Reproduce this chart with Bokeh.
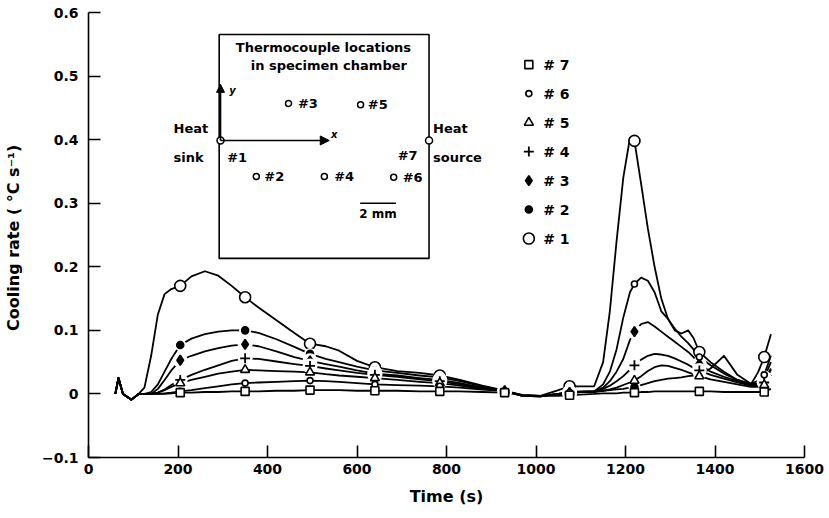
from bokeh.plotting import figure
from bokeh.models import FixedTicker, CustomJSTickFormatter, Arrow, NormalHead
from bokeh.core.properties import value
from bokeh.embed import file_html
from bokeh.resources import INLINE

# Time axis of the cooling-rate records (s)
time_s = [60, 67, 77, 96, 112, 125, 140, 155, 170, 185,
          205, 230, 260, 290, 320, 350, 380, 420, 460, 495,
          530, 560, 600, 640, 690, 740, 785, 830, 880, 930,
          970, 1010, 1050, 1075, 1100, 1130, 1150, 1165, 1180, 1195,
          1210, 1220, 1235, 1250, 1265, 1280, 1295, 1310, 1325, 1340,
          1352, 1365, 1390, 1420, 1450, 1480, 1495, 1510, 1525]

# Cooling rate (degC/s) for each thermocouple
rate_tc1 = [0.0, 0.025, 0.0, -0.009, 0.0, 0.01, 0.06, 0.125, 0.157, 0.165,
            0.170, 0.185, 0.193, 0.186, 0.170, 0.152, 0.136, 0.116, 0.096, 0.079,
            0.075, 0.068, 0.052, 0.042, 0.036, 0.033, 0.029, 0.022, 0.013, 0.005,
            -0.002, -0.003, 0.006, 0.012, 0.012, 0.012, 0.05, 0.13, 0.24, 0.34,
            0.403, 0.398, 0.33, 0.26, 0.20, 0.15, 0.118, 0.10, 0.095, 0.10,
            0.088, 0.066, 0.05, 0.035, 0.022, 0.015, 0.032, 0.058, 0.094]
rate_tc2 = [0.0, 0.025, 0.0, -0.009, 0.0, 0.0, 0.003, 0.015, 0.035, 0.055,
            0.077, 0.087, 0.094, 0.098, 0.100, 0.100, 0.096, 0.086, 0.074, 0.063,
            0.055, 0.050, 0.043, 0.037, 0.033, 0.029, 0.026, 0.020, 0.012, 0.005,
            -0.003, -0.004, 0.0, 0.003, 0.004, 0.004, 0.005, 0.006, 0.007, 0.008,
            0.010, 0.011, 0.014, 0.017, 0.020, 0.022, 0.024, 0.025, 0.026, 0.028,
            0.029, 0.030, 0.040, 0.060, 0.030, 0.016, 0.016, 0.020, 0.040]
rate_tc3 = [0.0, 0.025, 0.0, -0.009, 0.0, 0.0, 0.0, 0.008, 0.022, 0.037,
            0.053, 0.060, 0.067, 0.072, 0.076, 0.078, 0.075, 0.067, 0.058, 0.052,
            0.047, 0.043, 0.037, 0.032, 0.029, 0.025, 0.022, 0.017, 0.010, 0.005,
            -0.003, -0.004, 0.0, 0.002, 0.003, 0.004, 0.010, 0.020, 0.035, 0.055,
            0.085, 0.098, 0.110, 0.113, 0.106, 0.098, 0.090, 0.082, 0.074, 0.066,
            0.058, 0.047, 0.035, 0.027, 0.020, 0.014, 0.016, 0.025, 0.050]
rate_tc4 = [0.0, 0.025, 0.0, -0.009, 0.0, 0.0, 0.0, 0.002, 0.007, 0.014,
            0.022, 0.030, 0.038, 0.045, 0.052, 0.056, 0.055, 0.051, 0.047, 0.044,
            0.040, 0.037, 0.033, 0.030, 0.027, 0.023, 0.020, 0.015, 0.009, 0.005,
            -0.003, -0.004, 0.0, 0.002, 0.003, 0.004, 0.008, 0.013, 0.020, 0.028,
            0.038, 0.045, 0.054, 0.060, 0.063, 0.062, 0.060, 0.056, 0.051, 0.046,
            0.041, 0.037, 0.030, 0.024, 0.018, 0.013, 0.013, 0.018, 0.038]
rate_tc5 = [0.0, 0.025, 0.0, -0.009, 0.0, 0.0, 0.0, 0.002, 0.006, 0.011,
            0.017, 0.022, 0.027, 0.032, 0.035, 0.038, 0.037, 0.036, 0.035, 0.034,
            0.031, 0.029, 0.027, 0.025, 0.022, 0.019, 0.017, 0.013, 0.008, 0.005,
            -0.003, -0.004, 0.0, 0.002, 0.003, 0.003, 0.005, 0.007, 0.010, 0.014,
            0.018, 0.021, 0.028, 0.036, 0.042, 0.045, 0.044, 0.041, 0.038, 0.034,
            0.031, 0.028, 0.023, 0.019, 0.015, 0.011, 0.011, 0.014, 0.030]
rate_tc6 = [0.0, 0.025, 0.0, -0.009, 0.0, 0.0, 0.0, 0.0, 0.001, 0.002,
            0.004, 0.006, 0.009, 0.012, 0.015, 0.017, 0.018, 0.019, 0.020, 0.021,
            0.020, 0.019, 0.017, 0.015, 0.014, 0.013, 0.012, 0.010, 0.007, 0.005,
            -0.002, -0.003, 0.0, 0.002, 0.003, 0.004, 0.015, 0.035, 0.070, 0.120,
            0.160, 0.173, 0.183, 0.178, 0.160, 0.130, 0.118, 0.103, 0.090, 0.080,
            0.070, 0.058, 0.045, 0.032, 0.022, 0.016, 0.020, 0.030, 0.060]
rate_tc7 = [0.0, 0.025, 0.0, -0.009, 0.0, 0.0, 0.0, 0.0, 0.0, 0.001,
            0.002, 0.002, 0.003, 0.003, 0.004, 0.004, 0.004, 0.005, 0.005, 0.006,
            0.006, 0.006, 0.005, 0.005, 0.005, 0.004, 0.004, 0.004, 0.003, 0.002,
            -0.002, -0.003, -0.003, -0.002, -0.001, 0.0, 0.001, 0.001, 0.001, 0.002,
            0.002, 0.002, 0.003, 0.003, 0.004, 0.004, 0.004, 0.004, 0.004, 0.004,
            0.004, 0.004, 0.004, 0.003, 0.003, 0.003, 0.003, 0.003, 0.008]

# Times at which the symbols are plotted on each curve
marker_times = [205, 350, 495, 640, 785, 930, 1075, 1220, 1365, 1510]

series_labels = ["# 1", "# 2", "# 3", "# 4", "# 5", "# 6", "# 7"]
series_rates = [rate_tc1, rate_tc2, rate_tc3, rate_tc4, rate_tc5, rate_tc6, rate_tc7]

x_ticks = [0, 200, 400, 600, 800, 1000, 1200, 1400, 1600]
y_ticks = [-0.1, 0.0, 0.1, 0.2, 0.3, 0.4, 0.5, 0.6]

FONT = "DejaVu Sans"
INK = "black"

# symbol style for each thermocouple: marker, size, fill, halo
styles = [
    dict(marker="circle", size=11, fill="white", halo=False),
    dict(marker="circle", size=7, fill=INK, halo=True),
    dict(marker="diamond", size=10, fill=INK, halo=True),
    dict(marker="cross", size=10, fill=INK, halo=True),
    dict(marker="triangle", size=9, fill="white", halo=False),
    dict(marker="circle", size=6, fill="white", halo=False),
    dict(marker="square", size=8, fill="white", halo=False),
]

p = figure(width=829, height=518, x_range=(0, 1600), y_range=(-0.1, 0.6),
           output_backend="svg", toolbar_location=None,
           min_border_left=87, min_border_right=25, min_border_top=12, min_border_bottom=61)
p.outline_line_color = None
p.grid.visible = False
p.background_fill_color = "white"
p.border_fill_color = "white"

for ax in (p.xaxis[0], p.yaxis[0]):
    ax.axis_line_width = 1.6
    ax.axis_line_color = INK
    ax.major_tick_line_width = 1.6
    ax.major_tick_line_color = INK
    ax.major_tick_in = 12
    ax.major_tick_out = 0
    ax.minor_tick_line_color = None
    ax.major_label_text_font = FONT
    ax.major_label_text_font_style = "bold"
    ax.major_label_text_font_size = "14px"
    ax.major_label_text_color = INK
    ax.axis_label_text_font = FONT
    ax.axis_label_text_font_style = "bold"
    ax.axis_label_text_font_size = "16px"
    ax.axis_label_text_color = INK

p.xaxis.ticker = FixedTicker(ticks=x_ticks)
p.yaxis.ticker = FixedTicker(ticks=y_ticks)
p.xaxis.major_label_standoff = 6
p.yaxis.major_label_standoff = 10
p.yaxis.formatter = CustomJSTickFormatter(code="""
    if (Math.abs(tick) < 1e-9) { return "0"; }
    const s = Math.abs(tick).toFixed(1);
    return tick < 0 ? "\u2212" + s : s;
""")
p.xaxis.axis_label = "Time (s)"
p.xaxis.axis_label_standoff = 10
p.yaxis.axis_label = "Cooling rate ( °C  s\u207b\u00b9)"
p.yaxis.axis_label_standoff = 16

# curves
for rates in series_rates:
    p.line(time_s, rates, line_color=INK, line_width=1.8, line_join="round")

# symbols on the curves
def draw_symbol(xs, ys, st):
    if st["halo"]:
        p.scatter(xs, ys, marker="circle", size=st["size"] + 5, fill_color="white",
                  line_color=None)
    if st["marker"] == "cross":
        p.scatter(xs, ys, marker="cross", size=st["size"], line_color=INK, line_width=1.8)
    else:
        p.scatter(xs, ys, marker=st["marker"], size=st["size"], fill_color=st["fill"],
                  line_color=INK, line_width=1.6)

for rates, st in zip(series_rates, styles):
    xs = [t for t in time_s if t in marker_times]
    ys = [r for t, r in zip(time_s, rates) if t in marker_times]
    draw_symbol(xs, ys, st)

# key: #7 at the top down to #1
key_x, key_text_x, key_top, key_step = 984, 1016, 0.518, 0.0456
for k, idx in enumerate(range(6, -1, -1)):
    yk = key_top - k * key_step
    draw_symbol([key_x], [yk], styles[idx])
    p.text([key_text_x], [yk], text=[series_labels[idx]], text_font=value(FONT),
           text_font_style="bold", text_font_size="14px", text_align="left",
           text_baseline="middle", text_color=INK)

# inset sketch of the thermocouple positions
p.quad(left=[292], right=[761], bottom=[0.2132], top=[0.5654], fill_color="white",
       line_color=INK, line_width=1.6)
p.text([525, 537], [0.545, 0.517], text=["Thermocouple locations", "in specimen chamber"],
       text_font=value(FONT), text_font_style="bold", text_font_size="13px",
       text_align="center", text_baseline="middle", text_color=INK)
p.add_layout(Arrow(end=NormalHead(size=9, fill_color=INK, line_color=INK),
                   x_start=295, y_start=0.3987, x_end=538, y_end=0.3987,
                   line_width=1.6, line_color=INK))
p.add_layout(Arrow(end=NormalHead(size=8, fill_color=INK, line_color=INK),
                   x_start=295, y_start=0.3987, x_end=295, y_end=0.487,
                   line_width=1.6, line_color=INK))
p.text([549, 322], [0.408, 0.478], text=["x", "y"], text_font=value(FONT),
       text_font_style="bold italic", text_font_size="10px", text_align="center",
       text_baseline="middle", text_color=INK)
p.scatter([295, 761], [0.3987, 0.3987], marker="circle", size=7, fill_color="white",
          line_color=INK, line_width=1.5)
# probe positions inside the chamber
p.scatter([375, 447, 527, 608, 682], [0.342, 0.457, 0.342, 0.455, 0.341], marker="circle",
          size=6, fill_color="white", line_color=INK, line_width=1.5)
p.text([310, 393, 468, 549, 624, 702, 691],
       [0.372, 0.342, 0.457, 0.342, 0.455, 0.341, 0.375],
       text=["#1", "#2", "#3", "#4", "#5", "#6", "#7"], text_font=value(FONT),
       text_font_style="bold", text_font_size="13px", text_align="left",
       text_baseline="middle", text_color=INK)
p.line([607, 687], [0.300, 0.300], line_color=INK, line_width=1.6)
p.text([647], [0.283], text=["2 mm"], text_font=value(FONT), text_font_style="bold",
       text_font_size="12px", text_align="center", text_baseline="middle", text_color=INK)
p.text([190, 190, 770, 770], [0.418, 0.372, 0.418, 0.372],
       text=["Heat", "sink", "Heat", "source"], text_font=value(FONT),
       text_font_style="bold", text_font_size="13px", text_align="left",
       text_baseline="middle", text_color=INK)

open("out.html", "w").write(file_html(p, INLINE))
